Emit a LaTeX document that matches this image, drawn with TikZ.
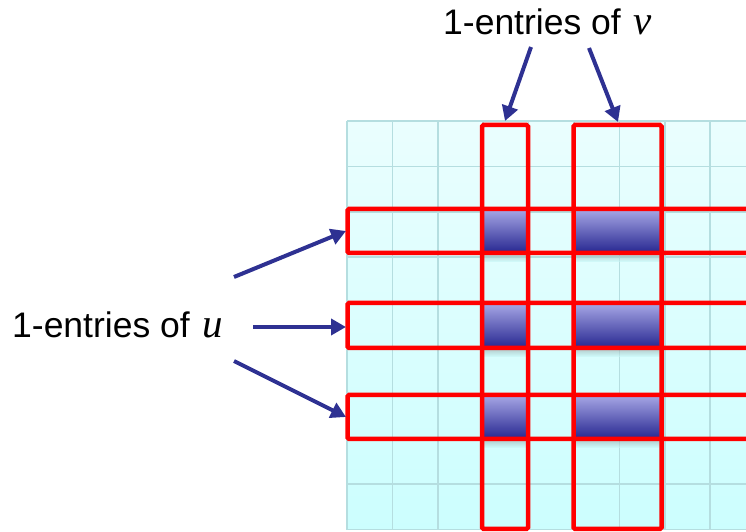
\documentclass[tikz,border=0pt]{standalone}
\usepackage{fontspec}
\setmainfont{Liberation Sans}
\newfontfamily\varfont{Liberation Serif}
\usetikzlibrary{arrows.meta}
\definecolor{gridline}{HTML}{B5DEE0}
\definecolor{bgtop}{HTML}{EAFEFE}
\definecolor{bgbot}{HTML}{CCFEFE}
\definecolor{navy}{HTML}{2E3192}
\definecolor{celltop}{HTML}{A8A8E6}
\definecolor{cellbot}{HTML}{262690}
\newcommand{\vecname}[1]{\hspace{3pt}{\varfont\itshape\fontsize{41}{44}\selectfont #1}}
\tikzset{
  pointer/.style={draw=navy, line width=4pt, -{Triangle[length=15pt,width=16pt]}},
  selbox/.style={draw=red, line width=4.5pt, rounded corners=1.5pt},
  label/.style={inner sep=0pt, font=\fontsize{35.5}{40}\selectfont},
  onecell/.style={top color=celltop, bottom color=cellbot},
}
\begin{document}
\begin{tikzpicture}[x=1pt,y=1pt]
\useasboundingbox (0,0) rectangle (746,532);
\begin{scope}
  \clip (0,0) rectangle (746,532);
  % matrix background and cell grid
  \shade[top color=bgtop, bottom color=bgbot] (347,2.4) rectangle (760,411);
  \foreach \i in {0,...,9} {
    \draw[gridline, line width=1.5pt] (347+45.4*\i,2.4) -- (347+45.4*\i,411);
    \draw[gridline, line width=1.5pt] (347,411-45.4*\i) -- (760,411-45.4*\i);
  }
  % soft shadows under the 1-cells
  \foreach \yb in {279,184,93} {
    \foreach \xa/\xb in {484/526,575/660} {
      \shade[top color=gray!70!bgbot, bottom color=bgbot, opacity=0.6]
        (\xa,\yb-9) rectangle (\xb,\yb);
    }
  }
  % entries where both u and v are 1
  \foreach \ya/\yb in {279/323,184/229,93/137} {
    \shade[onecell] (482,\ya) rectangle (528,\yb);
    \shade[onecell] (573.5,\ya) rectangle (661.5,\yb);
  }
  % selected rows and columns
  \draw[selbox] (347.5,279) rectangle (770,323);
  \draw[selbox] (347.5,184) rectangle (770,229);
  \draw[selbox] (347.5,93) rectangle (770,137);
  \draw[selbox] (482,3) rectangle (528,407);
  \draw[selbox] (573.5,3) rectangle (661.5,407);
\end{scope}

% labels
\node[label, anchor=base west] (ulab) at (12,194) {1-entries of \vecname{u}};
\node[label, anchor=base west] (vlab) at (443,497) {1-entries of \vecname{v}};

% arrow end points
\coordinate (u1s) at (234,255);
\coordinate (u2s) at (253,205);
\coordinate (u3s) at (234,171);
\coordinate (u1e) at (346,301);
\coordinate (u2e) at (346,205);
\coordinate (u3e) at (346,115);
\coordinate (v1s) at (531,485);
\coordinate (v2s) at (589,484);
\coordinate (v1e) at (505,411);
\coordinate (v2e) at (618,410);

\draw[pointer] (u1s) -- (u1e);
\draw[pointer] (u2s) -- (u2e);
\draw[pointer] (u3s) -- (u3e);
\draw[pointer] (v1s) -- (v1e);
\draw[pointer] (v2s) -- (v2e);
\end{tikzpicture}
\end{document}
